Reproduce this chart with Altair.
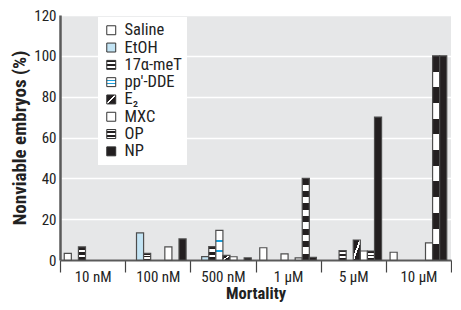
import altair as alt
import pandas as pd

doses = ["10 nM", "100 nM", "500 nM", "1 μM", "5 μM", "10 μM"]
series = ["Saline", "EtOH", "17α-meT", "pp′-DDE", "E₂", "MXC", "OP", "NP"]

saline = [3.2, 0, 0, 6.0, 0, 3.8]
etoh = [0, 13.3, 1.7, 0, 0, 0]
meT = [6.4, 3.3, 6.6, 0, 4.6, 0]
dde = [0, 0, 14.5, 3.0, 0, 0]
e2 = [0, 0, 2.3, 0, 9.8, 0]
mxc = [0, 6.4, 1.6, 1.0, 4.4, 8.4]
op = [0, 0, 0, 40, 4.4, 100]
np_vals = [0, 10.3, 1.0, 1.3, 70, 100]

values = [saline, etoh, meT, dde, e2, mxc, op, np_vals]

rows = []
for s, vals in zip(series, values):
    for d, v in zip(doses, vals):
        if v > 0:
            rows.append({"dose": d, "series": s, "value": v})
df = pd.DataFrame(rows)

BLACK = "#231f20"


def bands(parts, x2=0, y2=1):
    stops = []
    for a, b, c in parts:
        stops.append("{offset:%g,color:'%s'}" % (a, c))
        stops.append("{offset:%g,color:'%s'}" % (b, c))
    return {"expr": "{gradient:'linear',x1:0,y1:0,x2:%g,y2:%g,stops:[%s]}" % (x2, y2, ",".join(stops))}


def alternating(n_white, first=BLACK, second="#ffffff"):
    n = 2 * n_white + 1
    parts = []
    for i in range(n):
        parts.append((i / n, (i + 1) / n, first if i % 2 == 0 else second))
    return bands(parts)


fills = [
    "#ffffff",
    "#c3e4f4",
    alternating(2),
    bands([(0, 0.31, "#ffffff"), (0.31, 0.39, "#1b9fdc"), (0.39, 0.65, "#ffffff"),
           (0.65, 0.72, "#1b9fdc"), (0.72, 1, "#ffffff")]),
    bands([(0, 0.42, BLACK), (0.42, 0.56, "#ffffff"), (0.56, 1, BLACK)], x2=1, y2=1),
    "#ffffff",
    alternating(6),
    BLACK,
]

FONT = "Liberation Sans Narrow, Roboto Condensed, DejaVu Sans Condensed, Arial Narrow, sans-serif"

chart = alt.Chart(df).mark_bar(stroke="#4d4d4d", strokeWidth=1.2).encode(
    x=alt.X("dose:N", sort=doses, title="Mortality",
            scale=alt.Scale(paddingInner=0, paddingOuter=0),
            axis=alt.Axis(labelAngle=0, tickBand="extent", tickSize=12, tickColor="#444",
                          tickWidth=1.2, domainColor="#5a5a5a", domainWidth=2,
                          labelFontSize=15, labelColor="#222", labelPadding=-3,
                          titleFontSize=16.5, titleFontWeight="bold", titleColor="#222",
                          titlePadding=1)),
    xOffset=alt.XOffset("series:N", sort=series,
                        scale=alt.Scale(domain=series, paddingInner=0, paddingOuter=0.6)),
    y=alt.Y("value:Q", title="Nonviable embryos (%)",
            scale=alt.Scale(domain=[0, 120], nice=False),
            axis=alt.Axis(values=[0, 20, 40, 60, 80, 100, 120], ticks=False,
                          domainColor="#5a5a5a", domainWidth=2.5, grid=True,
                          gridColor="#ffffff", gridWidth=1.5,
                          labelFontSize=15, labelColor="#222", labelPadding=4,
                          titleFontSize=19, titleFontWeight="bold", titleColor="#222",
                          titlePadding=4)),
    color=alt.Color("series:N", sort=series,
                    scale=alt.Scale(domain=series, range=fills),
                    legend=alt.Legend(title=None, orient="none", legendX=38, legendY=2,
                                      fillColor="#ffffff", padding=5,
                                      symbolType="square", symbolSize=80,
                                      symbolStrokeColor="#333", symbolStrokeWidth=1,
                                      labelFontSize=16.5, labelColor="#222",
                                      rowPadding=0.3, labelOffset=5)),
).properties(
    width=391, height=245,
    padding={"left": 2, "top": 0, "right": 0, "bottom": 0},
).configure(
    font=FONT,
).configure_view(
    fill="#e6e7e8", strokeWidth=0,
)

chart.save("out.html", embed_options={"renderer": "svg", "actions": False})
